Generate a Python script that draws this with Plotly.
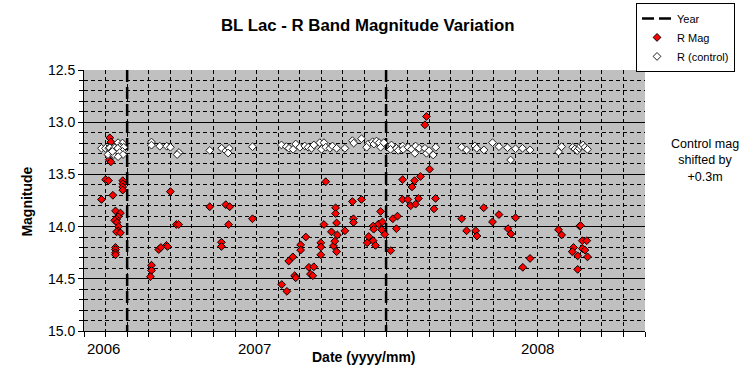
import plotly.graph_objects as go

# ---------------- data ----------------
rmag_date = [
    2005.933, 2005.937, 2005.931, 2005.937, 2005.917, 2005.928, 2005.983, 2005.983, 2005.983, 2005.983,
    2005.945, 2005.901, 2005.955, 2005.974, 2005.965, 2005.959, 2005.952, 2005.961, 2005.967, 2005.965,
    2005.959, 2005.974, 2005.955, 2005.955, 2005.955, 2005.955,
    2006.094, 2006.094, 2006.090, 2006.122, 2006.130, 2006.152, 2006.156, 2006.167, 2006.190, 2006.199,
    2006.319, 2006.381, 2006.396, 2006.392, 2006.364, 2006.364, 2006.484,
    2006.597, 2006.617, 2006.624, 2006.640, 2006.647, 2006.651, 2006.670, 2006.670, 2006.690, 2006.702,
    2006.721, 2006.708, 2006.717, 2006.748, 2006.748, 2006.748, 2006.760, 2006.767, 2006.789, 2006.797,
    2006.802, 2006.809, 2006.812, 2006.805, 2006.805, 2006.809, 2006.841, 2006.870, 2006.874, 2006.874,
    2006.905, 2006.927, 2006.933, 2006.950, 2006.959, 2006.950, 2006.952, 2006.971, 2006.986, 2006.983,
    2006.995, 2006.979, 2007.018, 2007.026, 2007.044, 2007.040,
    2007.064, 2007.110, 2007.133, 2007.100, 2007.064, 2007.084, 2007.125, 2007.095, 2007.114, 2007.191,
    2007.185, 2007.156, 2007.150, 2007.168, 2007.292, 2007.311, 2007.377, 2007.346, 2007.351, 2007.411,
    2007.436, 2007.471, 2007.482, 2007.500, 2007.556, 2007.528, 2007.666, 2007.678, 2007.748, 2007.751,
    2007.758, 2007.775, 2007.724, 2007.719, 2007.758, 2007.768, 2007.778, 2007.740, 2007.740,
]
rmag_value = [
    13.15, 13.19, 13.36, 13.38, 13.55, 13.56, 13.56, 13.59, 13.62, 13.65,
    13.70, 13.74, 13.85, 13.87, 13.905, 13.93, 13.94, 13.96, 14.00, 14.04,
    14.05, 14.06, 14.20, 14.22, 14.25, 14.27,
    14.37, 14.42, 14.48, 14.22, 14.20, 14.18, 14.19, 13.665, 13.98, 13.98,
    13.81, 13.79, 13.81, 13.98, 14.15, 14.19, 13.925,
    14.555, 14.62, 14.33, 14.29, 14.47, 14.49, 14.175, 14.225, 14.10, 14.39,
    14.385, 14.455, 14.47, 14.155, 14.195, 14.27, 13.98, 13.57, 14.05, 14.185,
    14.14, 14.24, 14.08, 13.82, 13.875, 13.965, 14.04, 13.76, 13.925, 13.96,
    13.74, 14.155, 14.095, 14.135, 14.18, 13.995, 14.025, 13.975, 13.955, 14.03,
    14.075, 13.855, 14.23, 13.925, 13.90, 14.02,
    13.55, 13.56, 13.52, 13.62, 13.74, 13.74, 13.73, 13.80, 13.785, 13.73,
    13.83, 12.945, 13.025, 13.45, 13.925, 14.04, 13.82, 14.04, 14.09, 13.955,
    13.885, 14.02, 14.07, 13.915, 14.305, 14.39, 14.03, 14.08, 13.995, 13.99,
    14.135, 14.135, 14.20, 14.24, 14.21, 14.225, 14.29, 14.28, 14.41,
]

ctrl_date = [
    2005.901, 2005.916, 2005.929, 2005.933, 2005.939, 2005.926, 2005.948, 2005.952, 2005.956, 2005.965,
    2005.982, 2005.976, 2005.971, 2005.987, 2005.964, 2005.982, 2005.971, 2005.984, 2005.965, 2005.943,
    2006.094, 2006.094, 2006.126, 2006.153, 2006.167, 2006.200, 2006.193, 2006.319, 2006.365, 2006.381,
    2006.394, 2006.390, 2006.484,
    2006.596, 2006.615, 2006.625, 2006.641, 2006.651, 2006.667, 2006.686, 2006.699, 2006.712, 2006.721,
    2006.744, 2006.751, 2006.760, 2006.767, 2006.783, 2006.793, 2006.809, 2006.841, 2006.870, 2006.875,
    2006.905, 2006.931, 2006.925, 2006.948, 2006.953, 2006.963, 2006.973, 2006.979, 2006.991,
    2007.021, 2007.017, 2007.040, 2007.047, 2007.064, 2007.066, 2007.085, 2007.098, 2007.111, 2007.114,
    2007.128, 2007.150, 2007.156, 2007.166, 2007.182, 2007.192,
    2007.292, 2007.311, 2007.343, 2007.350, 2007.378, 2007.411, 2007.436, 2007.469, 2007.481, 2007.500,
    2007.527, 2007.556, 2007.666, 2007.678, 2007.721, 2007.729, 2007.738, 2007.746, 2007.751, 2007.761,
    2007.768, 2007.778,
]
ctrl_value = [
    13.25, 13.25, 13.25, 13.245, 13.28, 13.31, 13.31, 13.245, 13.27, 13.196,
    13.20, 13.235, 13.24, 13.24, 13.25, 13.28, 13.29, 13.31, 13.33, 13.28,
    13.19, 13.22, 13.23, 13.23, 13.24, 13.29, 13.31, 13.27, 13.25, 13.275,
    13.25, 13.295, 13.235,
    13.218, 13.234, 13.25, 13.26, 13.209, 13.24, 13.228, 13.24, 13.25, 13.218,
    13.196, 13.26, 13.196, 13.24, 13.25, 13.228, 13.25, 13.25, 13.177, 13.20,
    13.158, 13.209, 13.24, 13.187, 13.209, 13.18, 13.196, 13.24, 13.196,
    13.218, 13.26, 13.25, 13.27, 13.228, 13.26, 13.24, 13.26, 13.298, 13.228,
    13.25, 13.25, 13.298, 13.273, 13.314, 13.24,
    13.24, 13.266, 13.228, 13.25, 13.266, 13.196, 13.234, 13.244, 13.362, 13.254,
    13.25, 13.266, 13.285, 13.234, 13.24, 13.257, 13.273, 13.25, 13.228, 13.218,
    13.24, 13.26,
]

year_marks = [2006, 2007]
xtick_labels = ["2006", "2007", "2008"]
xtick_label_at = [2005.907, 2006.490, 2007.583]

x_start = 2006 - 2 / 12
x_end = 2008.0
y_bottom, y_top = 15.0, 12.5

FONT = "Liberation Sans, Arial, sans-serif"

fig = go.Figure()

# Year lines
yx, yy = [], []
for yr in year_marks:
    yx += [yr, yr, None]
    yy += [y_top, y_bottom, None]
fig.add_trace(go.Scatter(
    x=yx, y=yy, mode="lines", name="Year",
    line=dict(color="black", width=2.5, dash="12px,5px"),
    hoverinfo="skip",
))

fig.add_trace(go.Scatter(
    x=rmag_date, y=rmag_value, mode="markers", name="R Mag",
    marker=dict(symbol="diamond", size=6, color="#ff0000",
                line=dict(color="black", width=1)),
))
fig.add_trace(go.Scatter(
    x=ctrl_date, y=ctrl_value, mode="markers", name="R (control)",
    marker=dict(symbol="diamond", size=6, color="white",
                line=dict(color="#202020", width=1)),
))

annotations = []
for lab, pos in zip(xtick_labels, xtick_label_at):
    annotations.append(dict(
        x=pos, y=0, xref="x", yref="paper", text=lab, showarrow=False,
        xanchor="center", yanchor="top", yshift=-7,
        font=dict(family=FONT, size=15, color="black"),
    ))

annotations += [
    dict(x=0.506, y=1.1686, xref="paper", yref="paper", showarrow=False,
         text="<b>BL Lac - R Band Magnitude Variation</b>",
         xanchor="center", yanchor="middle",
         font=dict(family=FONT, size=16.8, color="black")),
    dict(x=0.499, y=0, xref="paper", yref="paper", showarrow=False,
         text="<b>Date (yyyy/mm)</b>", xanchor="center", yanchor="middle",
         yshift=-26, font=dict(family=FONT, size=14, color="black")),
    dict(x=-0.102, y=0.495, xref="paper", yref="paper", showarrow=False,
         text="<b>Magnitude</b>", textangle=-90, xanchor="center", yanchor="middle",
         font=dict(family=FONT, size=14, color="black")),
    dict(x=1.107, y=0.655, xref="paper", yref="paper", showarrow=False,
         text="Control mag<br>shifted by<br>+0.3m", align="center",
         xanchor="center", yanchor="middle",
         font=dict(family=FONT, size=12.5, color="black")),
]

fig.update_layout(
    width=749, height=385,
    margin=dict(l=84, r=104, t=70, b=54, autoexpand=False),
    paper_bgcolor="white", plot_bgcolor="#c0c0c0",
    font=dict(family=FONT, size=14, color="black"),
    showlegend=True,
    legend=dict(
        x=0.9840, y=1.257, xanchor="left", yanchor="top",
        bgcolor="white", bordercolor="black", borderwidth=1,
        font=dict(family=FONT, size=11, color="black"),
        tracegroupgap=0, itemwidth=30,
    ),
    annotations=annotations,
)

fig.update_xaxes(
    range=[x_start, x_end + 1e-6], tickmode="linear", tick0=2006, dtick=1 / 12,
    showticklabels=False, ticks="outside", ticklen=5, tickcolor="black",
    showgrid=True, gridcolor="black", gridwidth=1, griddash="4px,3px",
    showline=True, linecolor="black", linewidth=1, zeroline=False,
)
fig.update_yaxes(
    range=[y_bottom, y_top], tickmode="linear", tick0=12.5, dtick=0.5,
    tickformat=".1f", ticks="outside", ticklen=5, tickcolor="black",
    tickfont=dict(family=FONT, size=14, color="black"),
    showgrid=True, gridcolor="black", gridwidth=1,
    minor=dict(dtick=0.1, tick0=12.5, showgrid=True, gridcolor="black",
               gridwidth=1, griddash="4px,3px", ticks="outside", ticklen=4,
               tickcolor="black"),
    showline=True, linecolor="black", linewidth=1, zeroline=False,
)

fig.write_html("out.html", config={"displayModeBar": False},
               post_script="document.body.style.margin='0px';")
